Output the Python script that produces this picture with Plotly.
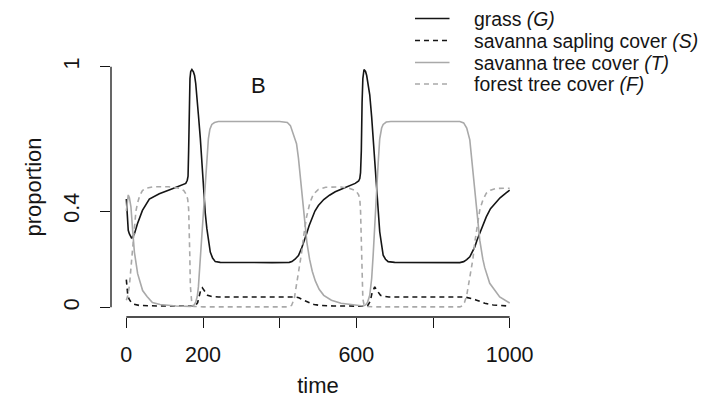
import plotly.graph_objects as go

# ---------------- data ----------------
t_grass = [0, 1, 2.5, 5, 8, 14, 21, 29, 42, 60, 86, 100, 115, 130, 145, 155, 159, 161,
           162.5, 164, 166, 168, 171, 175, 178, 181, 184, 188, 193, 197, 201, 206, 210,
           215, 219, 225, 232, 245, 300, 380, 425, 432, 440, 449, 457, 464, 470, 477,
           484, 492, 501, 515, 530, 545, 565, 583, 597, 606, 609, 611, 613, 615, 617,
           620, 624, 627, 631, 635, 640, 644, 648, 653, 657, 661, 666, 670, 676, 683,
           700, 800, 870, 880, 888, 896, 902, 909, 915, 922, 930, 939, 950, 961, 975,
           990, 1000]
grass = [0.45, 0.42, 0.35, 0.32, 0.305, 0.287, 0.305, 0.347, 0.403, 0.45, 0.472, 0.482,
         0.49, 0.499, 0.508, 0.515, 0.528, 0.545,
         0.65, 0.88, 0.95, 0.98, 0.988, 0.978, 0.963, 0.93, 0.883, 0.80, 0.702, 0.60,
         0.494, 0.39, 0.328,
         0.26, 0.23, 0.205, 0.19, 0.187, 0.186, 0.186, 0.187, 0.19, 0.2, 0.215, 0.245,
         0.275, 0.305, 0.34,
         0.37, 0.40, 0.423, 0.448, 0.466, 0.48, 0.494, 0.505, 0.515, 0.525, 0.535, 0.56,
         0.65, 0.85, 0.95,
         0.988, 0.98, 0.963, 0.93, 0.883, 0.79, 0.702, 0.60, 0.494, 0.40, 0.314, 0.26,
         0.217, 0.2, 0.19,
         0.187, 0.186, 0.186, 0.19, 0.198, 0.21, 0.228, 0.251, 0.28, 0.307, 0.345, 0.376,
         0.41, 0.432, 0.455,
         0.475, 0.487]

t_sapling = [0, 1.5, 3.4, 7, 12, 20, 34, 80, 170, 180, 186, 191, 195, 198, 201, 206, 212,
             223, 240, 440, 450, 460, 470, 480, 490, 505, 540, 600, 622, 630, 636, 641,
             645, 648, 652, 657, 663, 672, 685, 883, 892, 902, 912, 922, 935, 957, 980,
             1000]
sapling = [0.115, 0.09, 0.057, 0.035, 0.022, 0.013, 0.008, 0.006, 0.004, 0.006, 0.02,
           0.055, 0.078, 0.082, 0.075, 0.06, 0.05,
           0.045, 0.043, 0.043, 0.04, 0.032, 0.024, 0.018, 0.012, 0.008, 0.006, 0.005,
           0.005, 0.008, 0.025, 0.06,
           0.08, 0.085, 0.075, 0.062, 0.05, 0.046, 0.043, 0.043, 0.041, 0.036, 0.031,
           0.026, 0.017, 0.01, 0.007,
           0.005]

t_tree = [0, 2, 5, 8, 12, 16.5, 21, 29.5, 36, 42.5, 54, 68, 88, 130, 167, 176, 181, 185,
          188, 192, 197, 201, 206, 210, 214, 218, 223, 230, 240, 400, 420, 428, 436, 444,
          449, 455, 462, 466, 471, 478, 485, 493, 503, 515, 535, 560, 590, 618, 624, 629,
          635, 640, 644, 648, 653, 657, 661, 666, 670, 678, 690, 870, 880, 888, 896, 900,
          904, 909, 913, 918, 922, 930, 935, 948, 957, 974, 1000]
tree = [0.40, 0.44, 0.467, 0.455, 0.418, 0.32, 0.23, 0.14, 0.10, 0.07, 0.045, 0.02, 0.012,
        0.006, 0.004, 0.008, 0.022, 0.045,
        0.085, 0.18, 0.30, 0.41, 0.54, 0.63, 0.70, 0.74, 0.76, 0.768, 0.772, 0.772, 0.768,
        0.755, 0.72, 0.68,
        0.62, 0.53, 0.42, 0.36, 0.27, 0.2, 0.15, 0.11, 0.075, 0.05, 0.03, 0.017, 0.01,
        0.006, 0.01, 0.02,
        0.05, 0.12, 0.22, 0.35, 0.494, 0.60, 0.70, 0.745, 0.76, 0.77, 0.772, 0.772, 0.766,
        0.745, 0.696, 0.63,
        0.557, 0.48, 0.418, 0.34, 0.279, 0.2, 0.165, 0.1, 0.08, 0.043, 0.018]

t_forest = [0, 4, 8, 12, 16.5, 21, 25, 29.5, 35, 42, 51, 70, 110, 140, 150, 156, 160,
            162.5, 164, 165.5, 167, 168.5, 171, 176, 200, 420, 431, 438, 444, 449, 453,
            457, 462, 467, 470, 479, 488, 501, 520, 560, 583, 595, 601, 606, 609, 611,
            612.5, 614, 615.5, 617, 620, 625, 650, 870, 876, 882, 888, 893, 898, 904, 909,
            913, 918, 922, 930, 939, 950, 965, 1000]
forest = [0.03, 0.05, 0.09, 0.17, 0.25, 0.34, 0.40, 0.435, 0.465, 0.485, 0.495, 0.501,
          0.501, 0.495, 0.485, 0.47, 0.45,
          0.41, 0.34, 0.22, 0.09, 0.035, 0.012, 0.004, 0.002, 0.002, 0.008, 0.035, 0.09,
          0.14, 0.18,
          0.225, 0.29, 0.34, 0.375, 0.435, 0.47, 0.49, 0.499, 0.5, 0.494, 0.487, 0.48,
          0.467, 0.452, 0.40,
          0.30, 0.2, 0.078, 0.035, 0.012, 0.004, 0.002, 0.002, 0.006, 0.02, 0.05, 0.1,
          0.15, 0.2, 0.27,
          0.31, 0.37, 0.405, 0.445, 0.474, 0.487, 0.494, 0.495]

series_names = ["grass <i>(G)</i>", "savanna sapling cover <i>(S)</i>",
                "savanna tree cover <i>(T)</i>", "forest tree cover <i>(F)</i>"]

x_tickvals = [0, 200, 400, 600, 800, 1000]
x_ticktext = ["0", "200", "", "600", "", "1000"]
y_tickvals = [0, 0.4, 1]
y_ticktext = ["0", "0.4", "1"]

# ---------------- styling ----------------
BLACK = "#151515"
GREY = "#a9a9a9"
DASH = "5px,4px"
FONT = "Liberation Sans, Arial, Helvetica, sans-serif"

styles = [
    dict(color=BLACK, width=1.6, dash="solid"),
    dict(color=BLACK, width=1.6, dash=DASH),
    dict(color=GREY, width=1.6, dash="solid"),
    dict(color=GREY, width=1.6, dash=DASH),
]
xs = [t_grass, t_sapling, t_tree, t_forest]
ys = [grass, sapling, tree, forest]

fig = go.Figure()
for name, x, y, st in zip(series_names, xs, ys, styles):
    fig.add_trace(go.Scatter(x=x, y=y, mode="lines", name=name, line=st,
                             showlegend=False, hoverinfo="skip"))

W, H = 701, 398
ML, MR, MT, MB = 111, 176, 57, 81
PW, PH = W - ML - MR, H - MT - MB


def px_to_paper_x(px):
    return (px - ML) / PW


def px_to_paper_y(py):
    return (H - MB - py) / PH


shapes = [
    # R-style axis lines spanning only first to last tick
    dict(type="line", xref="x", yref="paper", x0=x_tickvals[0], x1=x_tickvals[-1],
         y0=0, y1=0, line=dict(color=BLACK, width=1.3)),
    dict(type="line", xref="paper", yref="y", x0=0, x1=0,
         y0=y_tickvals[0], y1=y_tickvals[-1], line=dict(color=BLACK, width=1.3)),
]

annotations = [
    dict(text="B", x=344, y=0.92, xref="x", yref="y", showarrow=False,
         font=dict(family=FONT, size=22, color=BLACK), xanchor="center", yanchor="middle"),
]

# manual R-style legend (top right, no box)
legend_rows_px = [18.5, 40.5, 62.5, 84]
for name, st, ry in zip(series_names, styles, legend_rows_px):
    yp = px_to_paper_y(ry)
    shapes.append(dict(type="line", xref="paper", yref="paper",
                       x0=px_to_paper_x(415), x1=px_to_paper_x(449.5), y0=yp, y1=yp,
                       line=dict(color=st["color"], width=st["width"], dash=st["dash"])))
    annotations.append(dict(text=name, xref="paper", yref="paper",
                            x=px_to_paper_x(472), y=yp, xanchor="left", yanchor="middle",
                            showarrow=False,
                            font=dict(family=FONT, size=19.4, color=BLACK)))

fig.update_layout(
    width=W, height=H,
    margin=dict(l=ML, r=MR, t=MT, b=MB, autoexpand=False),
    paper_bgcolor="white", plot_bgcolor="white",
    font=dict(family=FONT, color=BLACK),
    shapes=shapes, annotations=annotations,
    showlegend=False,
    xaxis=dict(range=[-40, 1040], showgrid=False, zeroline=False, showline=False,
               tickmode="array", tickvals=x_tickvals, ticktext=x_ticktext,
               ticks="outside", ticklen=10, tickwidth=1.3, tickcolor=BLACK,
               tickfont=dict(family=FONT, size=21.5, color=BLACK),
               ticklabelstandoff=8,
               title=dict(text="time", font=dict(family=FONT, size=22, color=BLACK),
                          standoff=13)),
    yaxis=dict(range=[-0.04, 1.04], showgrid=False, zeroline=False, showline=False,
               tickmode="array", tickvals=y_tickvals, ticktext=y_ticktext,
               ticks="outside", ticklen=10, tickwidth=1.3, tickcolor=BLACK,
               tickangle=-90,
               tickfont=dict(family=FONT, size=21.5, color=BLACK),
               ticklabelstandoff=12,
               title=dict(text="proportion", font=dict(family=FONT, size=22, color=BLACK),
                          standoff=12)),
)

fig.write_html("out.html")
